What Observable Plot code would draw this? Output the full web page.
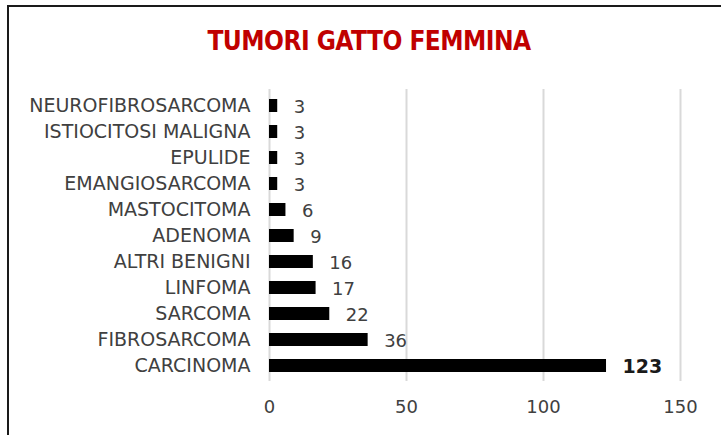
<!DOCTYPE html>
<html>
<head>
<meta charset="utf-8">
<script src="https://cdn.jsdelivr.net/npm/d3@7"></script>
<script src="https://cdn.jsdelivr.net/npm/@observablehq/plot@0.6"></script>
<style>
  html, body { margin: 0; padding: 0; background: #fff; }
  #wrap { position: relative; width: 721px; height: 435px; overflow: hidden; }
  #frame { position: absolute; left: 7px; top: 5px; width: 800px; height: 500px;
           border-top: 2px solid #1a1a1a; border-left: 2px solid #1a1a1a; }
  #title { position: absolute; left: 0; width: 738px; top: 26px; text-align: center;
           font-family: "DejaVu Sans", sans-serif; font-weight: bold; font-size: 26px;
           color: #c00000; letter-spacing: -0.6px; transform: scaleX(0.9); transform-origin: 369px 0; }
  #chart { position: absolute; left: 0; top: 0; }
</style>
</head>
<body>
<div id="wrap">
  <div id="frame"></div>
  <div id="title">TUMORI GATTO FEMMINA</div>
  <div id="chart"></div>
</div>
<script>
const categories = ["NEUROFIBROSARCOMA","ISTIOCITOSI MALIGNA","EPULIDE","EMANGIOSARCOMA","MASTOCITOMA","ADENOMA","ALTRI BENIGNI","LINFOMA","SARCOMA","FIBROSARCOMA","CARCINOMA"];
const values = [3,3,3,3,6,9,16,17,22,36,123];
const xTicks = [0,50,100,150];
const boldCategory = "CARCINOMA";

const data = categories.map((c, i) => ({cat: c, v: values[i]}));
const font = "DejaVu Sans, sans-serif";

const plot = Plot.plot({
  width: 721,
  height: 435,
  marginLeft: 269,
  marginRight: 41,
  marginTop: 89,
  marginBottom: 54,
  style: {fontFamily: font, fontSize: "18px", color: "#404040", background: "transparent"},
  x: {domain: [0, 150], ticks: xTicks, label: null},
  y: {domain: categories, paddingInner: 0.5, paddingOuter: 0.27, label: null},
  marks: [
    Plot.gridX(xTicks, {stroke: "#d9d9d9", strokeOpacity: 1, strokeWidth: 2}),
    Plot.barX(data, {x: "v", y: "cat", fill: "#000"}),
    Plot.text(data.filter(d => d.cat !== boldCategory), {x: "v", y: "cat", text: d => String(d.v), dx: 16, dy: 1, textAnchor: "start",
      fill: "#404040", fontSize: 18}),
    Plot.text(data.filter(d => d.cat === boldCategory), {x: "v", y: "cat", text: d => String(d.v), dx: 16, dy: 1, textAnchor: "start",
      fill: "#1a1a1a", fontSize: 19, fontWeight: "bold"}),
    Plot.axisY({tickSize: 0, tickPadding: 19, fontSize: 19, fill: "#404040", label: null}),
    Plot.axisX({ticks: xTicks, tickSize: 0, tickPadding: 19, fontSize: 18, fill: "#404040", label: null})
  ]
});
document.getElementById("chart").appendChild(plot);
</script>
</body>
</html>
